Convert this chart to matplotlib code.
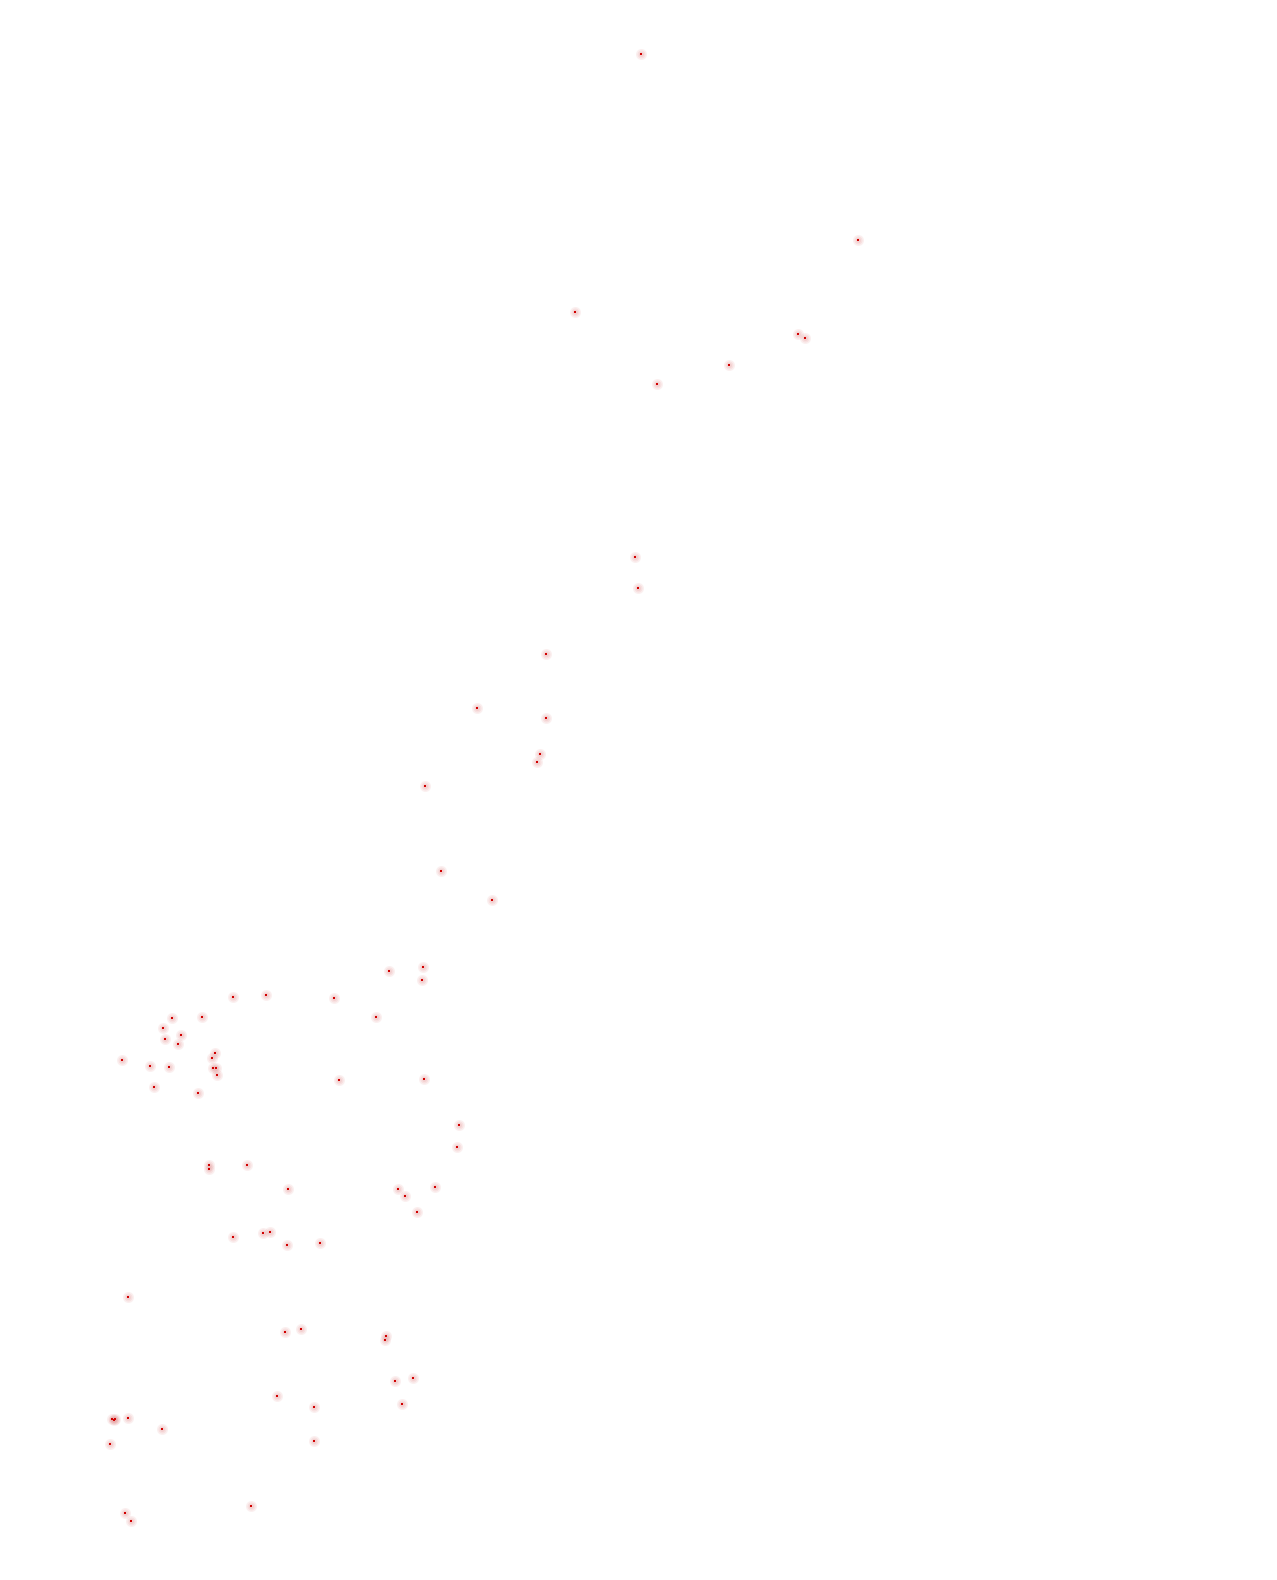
import matplotlib
matplotlib.use("Agg")
import matplotlib.pyplot as plt

x = [640.7, 858.3, 575.3, 798.3, 805.3, 729.3, 657.3,
     635.3, 638.3, 546.3, 477.3, 546.3, 540.3, 537.3,
     425.3, 441.3, 492.3,
     389.3, 423.3, 422.3, 233.3, 266.3, 334.3, 172.3, 202.3, 376.3, 163.3,
     181.3, 165.3, 178.3, 215.3, 212.3, 122.3, 150.3, 169.3, 213.3, 216.3,
     217.3, 339.3, 424.3, 154.3, 198.3,
     459.3, 457.3, 209.3, 209.3, 247.3, 288.3, 398.3, 405.3, 435.3, 417.3,
     233.3, 263.3, 270.3, 287.3, 320.3,
     128.3, 285.3, 301.3, 386.3, 385.3, 395.3, 413.3, 402.3, 277.3, 314.3,
     112.3, 114.3, 115.3, 128.3, 162.3, 110.3, 314.3,
     125.3, 131.3, 251.3]
y = [54.3, 240.3, 312.3, 334.3, 338.3, 365.3, 384.3,
     557.3, 588.3, 654.3, 708.3, 718.3, 754.3, 762.3,
     786.3, 871.3, 900.3,
     971.3, 967.3, 980.3, 997.3, 995.3, 998.3, 1018.3, 1017.3, 1017.3, 1028.3,
     1035.3, 1039.3, 1044.3, 1053.3, 1058.3, 1060.3, 1066.3, 1067.3, 1068.3, 1068.3,
     1075.3, 1080.3, 1079.3, 1087.3, 1093.3,
     1125.3, 1147.3, 1165.3, 1169.3, 1165.3, 1189.3, 1189.3, 1196.3, 1187.3, 1212.3,
     1237.3, 1233.3, 1232.3, 1245.3, 1243.3,
     1297.3, 1332.3, 1329.3, 1336.3, 1340.3, 1381.3, 1378.3, 1404.3, 1396.3, 1407.3,
     1419.3, 1420.3, 1419.0, 1418.3, 1429.3, 1444.3, 1441.3,
     1513.3, 1521.3, 1506.3]

W, H = 1277, 1580
fig = plt.figure(figsize=(W / 100, H / 100), dpi=100)
ax = fig.add_axes([0, 0, 1, 1])
ax.set_xlim(0, W)
ax.set_ylim(H, 0)
ax.axis("off")

px = 72 / 100  # points per pixel
for d, a in [(11, 0.14), (8, 0.16), (5, 0.2)]:
    ax.scatter(x, y, s=(d * px) ** 2, marker="o", color="#e49494", alpha=a,
               linewidths=0)
ax.scatter(x, y, s=(1.2 * px) ** 2, marker="s", color="#d00000", linewidths=0)

fig.savefig("out.png", dpi=100, facecolor="white")
